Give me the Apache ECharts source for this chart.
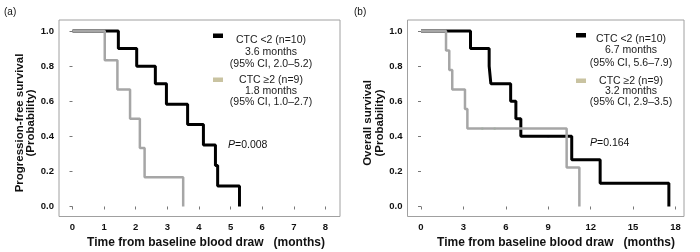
<!DOCTYPE html>
<html>
<head>
<meta charset="utf-8">
<script src="https://cdn.jsdelivr.net/npm/echarts@6/dist/echarts.min.js"></script>
<style>
  html, body { margin: 0; padding: 0; background: #fff; }
  #chart { width: 700px; height: 252px; }
</style>
</head>
<body>
<div id="chart"></div>
<script>
// (a) progression-free survival, step points (time in months, survival probability)
const pfsLowTime = [0, 1.45, 2.03, 2.62, 2.97, 3.64, 4.14, 4.52, 4.59, 5.28];
const pfsLowSurv = [1, 0.9, 0.8, 0.7, 0.583, 0.467, 0.35, 0.233, 0.117, 0];
const pfsHighTime = [0, 1.02, 1.42, 1.82, 2.13, 2.28, 3.5];
const pfsHighSurv = [1, 0.833, 0.667, 0.5, 0.333, 0.167, 0];
const pfsLowCensor = [[2.97, 0.7]];
const pfsHighCensor = [[0.45, 1], [0.66, 1]];

// (b) overall survival
const osLowTime = [0, 3.5, 4.82, 4.94, 6.34, 6.71, 7.06, 10.66, 12.67, 17.53];
const osLowSurv = [1, 0.9, 0.8, 0.7, 0.6, 0.5, 0.4, 0.267, 0.133, 0];
const osHighTime = [0, 1.77, 2.0, 2.21, 3.11, 3.28, 10.3, 11.2];
const osHighSurv = [1, 0.889, 0.778, 0.667, 0.556, 0.444, 0.222, 0];
const osLowCensor = [[9.0, 0.4]];
const osHighCensor = [[4.34, 0.444], [5.21, 0.444]];

// axis ticks
const pfsTicks = [0, 1, 2, 3, 4, 5, 6, 7, 8];
const osTicks = [0, 3, 6, 9, 12, 15, 18];
const survTicks = [0, 0.2, 0.4, 0.6, 0.8, 1.0];

// text
const pfsLegend = [
  ['CTC <2 (n=10)', '3.6 months', '(95% CI, 2.0–5.2)'],
  ['CTC ≥2 (n=9)', '1.8 months', '(95% CI, 1.0–2.7)']
];
const osLegend = [
  ['CTC <2 (n=10)', '6.7 months', '(95% CI, 5.6–7.9)'],
  ['CTC ≥2 (n=9)', '3.2 months', '(95% CI, 2.9–3.5)']
];
const pfsP = '0.008';
const osP = '0.164';
const xTitle = 'Time from baseline blood draw   (months)';

const FONT = '"Liberation Sans", Arial, sans-serif';
const BLACK = '#000';
const GRAY = '#a6a6a6';
const LEGEND_COLORS = ['#000', '#c9c3a1'];

const pairs = (t, s) => t.map((x, i) => [x, s[i]]);

function xAxisFor(idx, min, max, ticks) {
  return {
    gridIndex: idx, type: 'value', min: min, max: max,
    axisLine: { show: false },
    splitLine: { show: false },
    axisTick: { show: true, customValues: ticks, length: 3, lineStyle: { color: '#777' } },
    axisLabel: {
      customValues: ticks, margin: 6,
      color: '#111', fontFamily: FONT, fontSize: 9.5, fontWeight: 'bold'
    }
  };
}

function yAxisFor(idx) {
  return {
    gridIndex: idx, type: 'value', min: -0.057, max: 1.063,
    axisLine: { show: false },
    splitLine: { show: false },
    axisTick: { show: true, customValues: survTicks, length: 3, lineStyle: { color: '#777' } },
    axisLabel: {
      customValues: survTicks, margin: 5,
      formatter: (v) => v.toFixed(1),
      color: '#111', fontFamily: FONT, fontSize: 9.5, fontWeight: 'bold'
    }
  };
}

function stepSeries(idx, data, color, width) {
  return {
    type: 'line', xAxisIndex: idx, yAxisIndex: idx, step: 'end',
    data: data, symbol: 'none', silent: true,
    lineStyle: { color: color, width: width }
  };
}

function censorSeries(idx, data, color) {
  return {
    type: 'scatter', xAxisIndex: idx, yAxisIndex: idx, data: data,
    symbol: 'rect', symbolSize: [2, 2], silent: true,
    itemStyle: { color: color }
  };
}

function legendGraphics(items, rectX, textX, rows) {
  const out = [];
  items.forEach((lines, i) => {
    const r = rows[i];
    out.push({
      type: 'rect', shape: { x: rectX, y: r.rect, width: 10, height: 4.5 },
      style: { fill: LEGEND_COLORS[i] }
    });
    lines.forEach((txt, j) => {
      out.push({
        type: 'text', x: textX, y: r.lines[j],
        style: {
          text: txt, fill: '#1a1a1a', font: '10.5px ' + FONT,
          textAlign: 'center', textVerticalAlign: 'middle'
        }
      });
    });
  });
  return out;
}

function label(x, y, str, font, align) {
  return {
    type: 'text', x: x, y: y,
    style: { text: str, fill: '#111', font: font, textAlign: align || 'left', textVerticalAlign: 'middle' }
  };
}

function pText(x, y, val) {
  return {
    type: 'text', x: x, y: y,
    style: {
      text: '{i|P}=' + val, fill: '#111', font: '10.5px ' + FONT,
      textVerticalAlign: 'middle',
      rich: { i: { fontStyle: 'italic', fontFamily: FONT, fontSize: 10.5, fill: '#111' } }
    }
  };
}

function yTitle(x, y, str) {
  return {
    type: 'text', x: x, y: y, rotation: Math.PI / 2,
    style: {
      text: str, fill: '#111', font: 'bold 11.5px ' + FONT,
      textAlign: 'center', textVerticalAlign: 'middle'
    }
  };
}

const chart = echarts.init(document.getElementById('chart'), null, { renderer: 'canvas' });

chart.setOption({
  animation: false,
  backgroundColor: '#fff',
  grid: [
    { left: 59, top: 20, width: 281, height: 196.5, show: true, borderColor: '#a0a0a0', borderWidth: 1 },
    { left: 407.5, top: 20, width: 276.5, height: 196.5, show: true, borderColor: '#a0a0a0', borderWidth: 1 }
  ],
  xAxis: [
    xAxisFor(0, -0.427, 8.459, pfsTicks),
    xAxisFor(1, -0.955, 18.6, osTicks)
  ],
  yAxis: [yAxisFor(0), yAxisFor(1)],
  series: [
    stepSeries(0, pairs(pfsLowTime, pfsLowSurv), BLACK, 3),
    censorSeries(0, pfsLowCensor, '#3050c0'),
    stepSeries(0, pairs(pfsHighTime, pfsHighSurv), GRAY, 2.5),
    censorSeries(0, pfsHighCensor, '#5fc85f'),
    stepSeries(1, pairs(osLowTime, osLowSurv), BLACK, 3),
    censorSeries(1, osLowCensor, '#3050c0'),
    stepSeries(1, pairs(osHighTime, osHighSurv), GRAY, 2.5),
    censorSeries(1, osHighCensor, '#5fc85f')
  ],
  graphic: [
    label(4, 12, '(a)', '10px ' + FONT),
    label(354, 12, '(b)', '10px ' + FONT),
    yTitle(20, 123, 'Progression-free survival'),
    yTitle(31, 123, '(Probability)'),
    yTitle(368, 123, 'Overall survival'),
    yTitle(380, 123, '(Probability)'),
    label(206, 243, xTitle, 'bold 12px ' + FONT, 'center'),
    label(556, 243, xTitle, 'bold 12px ' + FONT, 'center'),
    pText(228, 145, pfsP),
    pText(590, 143, osP)
  ]
    .concat(legendGraphics(pfsLegend, 213, 271, [
      { rect: 33.5, lines: [40, 52.5, 64.5] },
      { rect: 77.5, lines: [80.5, 91.5, 102] }
    ]))
    .concat(legendGraphics(osLegend, 576, 631, [
      { rect: 33, lines: [39, 50.5, 63] },
      { rect: 78.5, lines: [81.5, 91.5, 102] }
    ]))
});
</script>
</body>
</html>
